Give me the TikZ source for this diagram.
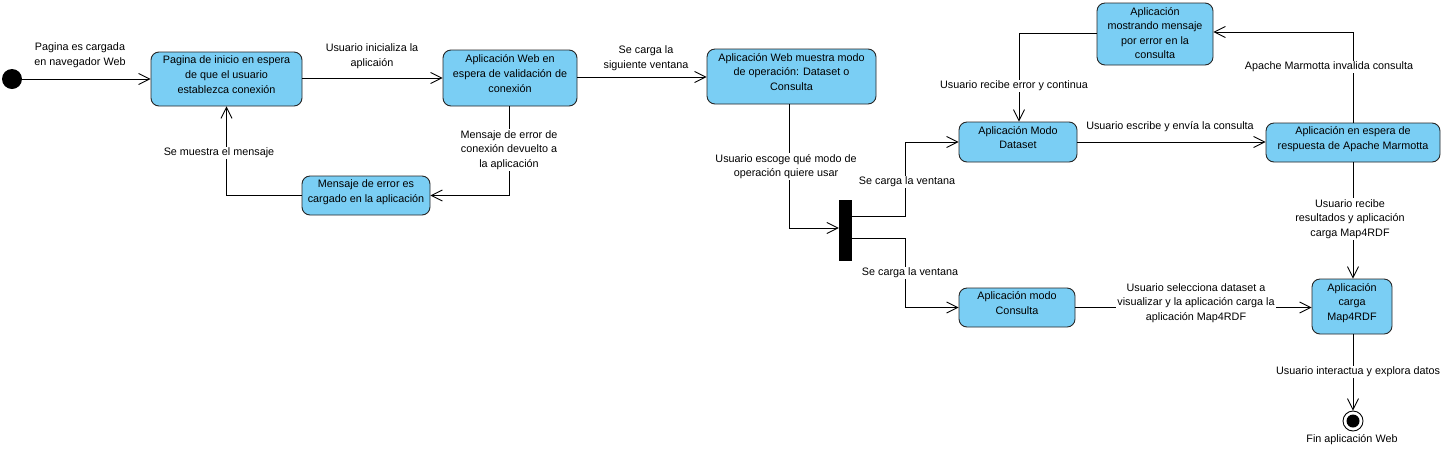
\documentclass[tikz,border=0pt]{standalone}
\usepackage{fontspec}
\setmainfont{Liberation Sans}
\usetikzlibrary{arrows.meta,calc}
\definecolor{boxblue}{HTML}{7ACEF4}
\definecolor{boxline}{HTML}{262626}
\newcommand{\bxt}[1]{\begin{tabular}{@{}c@{}}#1\\[7pt]\end{tabular}}
\begin{document}
\begin{tikzpicture}[x=1pt,y=-1pt,
  every node/.style={font=\fontsize{10.8}{14.6}\selectfont},
  state/.style={draw=boxline, fill=boxblue, rounded corners=8pt, inner sep=0pt, line width=0.9pt},
  lbl/.style={fill=white, inner sep=1pt, align=center},
  plain/.style={align=center, inner sep=1pt},
  arr/.style={-{Straight Barb[length=11pt,width=11pt,line width=0.9pt]}, line width=0.9pt, draw=black}]
\useasboundingbox (0,0) rectangle (1456,451);
\fill[white] (0,0) rectangle (1456,451);

% initial and final
\node[circle, fill=black, minimum size=20pt, inner sep=0pt] (ini) at (12,79) {};
\node[circle, draw=black, fill=white, line width=0.9pt, minimum size=20pt, inner sep=0pt] (fin) at (1353,421) {};
\node[circle, fill=black, minimum size=13pt, inner sep=0pt] (finin) at (fin) {};
\node[plain] (finlbl) at (1352,440) {Fin aplicación Web};

% states
\node[state, minimum width=151pt, minimum height=54pt] (A) at (226.5,79) {\bxt{Pagina de inicio en espera\\de que el usuario\\establezca conexión}};
\node[state, minimum width=134pt, minimum height=56pt] (B) at (510,78) {\bxt{Aplicación Web en\\espera de validación de\\conexión}};
\node[state, minimum width=169pt, minimum height=55pt] (C) at (791.5,76.5) {\bxt{Aplicación Web muestra modo\\de operación: Dataset o\\Consulta}};
\node[state, minimum width=128pt, minimum height=39pt] (D) at (366,195.5) {\bxt{Mensaje de error es\\cargado en la aplicación}};
\node[state, minimum width=118pt, minimum height=40pt] (E) at (1018,142) {\bxt{Aplicación Modo\\Dataset}};
\node[state, minimum width=116pt, minimum height=62pt] (F) at (1155,34) {\begin{tabular}{@{}c@{}}Aplicación\\mostrando mensaje\\por error en la\\consulta\end{tabular}};
\node[state, minimum width=174pt, minimum height=39pt] (G) at (1353,142.5) {\bxt{Aplicación en espera de\\respuesta de Apache Marmotta}};
\node[state, minimum width=80pt, minimum height=55pt] (H) at (1352,306.5) {\bxt{Aplicación\\carga\\Map4RDF}};
\node[state, minimum width=116pt, minimum height=39pt] (K) at (1017,307.5) {\bxt{Aplicación modo\\Consulta}};
\node[fill=black, minimum width=13pt, minimum height=61pt, inner sep=0pt] (fork) at (845.5,230.5) {};

% connectors
\draw[arr] (ini) -- (A.west);
\node[plain] at (80,55) {Pagina es cargada\\en navegador Web};

\draw[arr] ([yshift=1pt]A.east) -- ([yshift=1pt]A.east -| B.west);
\node[plain] at (372,56) {Usuario inicializa la\\aplicaión};

\draw[arr] ([yshift=1pt]B.east) -- ([yshift=1pt]B.east -| C.west);
\node[plain] at (646,58.5) {Se carga la\\siguiente ventana};

\draw[arr] ([xshift=-1pt]B.south) |- (D.east);
\node[lbl] at (509,150) {Mensaje de error de\\conexión devuelto a\\la aplicación};

\draw[arr] (D.west) -| (A.south);
\node[lbl] at (219,153) {Se muestra el mensaje};

\draw[arr] ([xshift=-2.5pt]C.south) |- ([yshift=2.5pt]fork.west);
\node[lbl] at (786,166.5) {Usuario escoge qué modo de\\operación quiere usar};

\draw[arr] ([yshift=14.5pt]fork.east) -- ++(53,0) |- (E.west);
\node[lbl] at (907,182) {Se carga la ventana};

\draw[arr] ([yshift=-7.5pt]fork.east) -- ++(53,0) |- (K.west);
\node[lbl] at (910,273) {Se carga la ventana};

\draw[arr] (E.east) -- (E.east -| G.west);
\node[plain] at (1170,127) {Usuario escribe y envía la consulta};

\draw[arr] (G.north) |- ([yshift=2pt]F.east);
\node[lbl] at (1329,67) {Apache Marmotta invalida consulta};

\draw[arr] ([yshift=1pt]F.west) -| ([xshift=1pt]E.north);
\node[lbl] at (1014,86) {Usuario recibe error y continua};

\draw[arr] (G.south) -- (G.south |- H.north);
\node[lbl] at (1350,219) {Usuario recibe\\resultados y aplicación\\carga Map4RDF};

\draw[arr] (K.east) -- (K.east -| H.west);
\node[lbl] at (1196,303) {Usuario selecciona dataset a\\visualizar y la aplicación carga la\\aplicación Map4RDF};

\draw[arr] (H.south -| fin) -- (fin.north);
\node[lbl] at (1358,372) {Usuario interactua y explora datos};
\end{tikzpicture}
\end{document}
